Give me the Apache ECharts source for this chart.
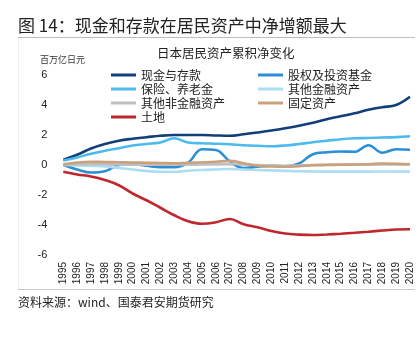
<!DOCTYPE html>
<html>
<head>
<meta charset="utf-8">
<script src="https://cdn.jsdelivr.net/npm/echarts@6/dist/echarts.min.js"></script>
<style>
html,body{margin:0;padding:0;background:#fff;}
#c{width:420px;height:348px;}
</style>
</head>
<body>
<div id="c"></div>
<script>
const years = ['1995','1996','1997','1998','1999','2000','2001','2002','2003','2004','2005','2006','2007','2008','2009','2010','2011','2012','2013','2014','2015','2016','2017','2018','2019','2020'];
const yTicks = [-6, -4, -2, 0, 2, 4, 6];
const cashDeposits = [0.35,0.68,1.1,1.4,1.62,1.75,1.85,1.95,2.0,2.0,2.0,1.97,1.95,2.05,2.17,2.3,2.45,2.62,2.82,3.05,3.25,3.45,3.68,3.85,4.0,4.55];
const equityFunds = [0.0,-0.3,-0.5,-0.42,0.0,0.05,-0.05,-0.15,-0.15,0.15,1.05,1.0,0.25,-0.2,-0.12,-0.05,-0.08,0.1,0.72,0.85,0.9,0.88,1.32,0.82,1.05,1.02];
const insurancePension = [0.3,0.5,0.75,0.95,1.12,1.3,1.4,1.5,1.78,1.5,1.45,1.42,1.38,1.32,1.28,1.25,1.3,1.4,1.52,1.62,1.72,1.78,1.8,1.83,1.86,1.92];
const otherFinancial = [0.0,-0.03,-0.06,-0.1,-0.2,-0.3,-0.4,-0.45,-0.45,-0.38,-0.33,-0.3,-0.27,-0.3,-0.33,-0.36,-0.39,-0.42,-0.43,-0.44,-0.44,-0.44,-0.44,-0.43,-0.43,-0.44];
const otherNonFinancial = [0,0.05,0.05,0.05,0.03,0.02,0.02,0.02,0.03,0.03,0.05,0.07,0.08,0.04,0,-0.04,-0.05,-0.03,0,0.02,0.03,0.03,0.04,0.06,0.06,0.05];
const fixedAssets = [0.05,0.17,0.22,0.2,0.18,0.17,0.15,0.13,0.12,0.15,0.18,0.22,0.28,0.12,-0.05,-0.1,-0.12,-0.08,-0.02,0,0.02,0.03,0.05,0.1,0.08,0.05];
const land = [-0.45,-0.63,-0.76,-1.0,-1.35,-1.9,-2.35,-2.85,-3.35,-3.75,-3.92,-3.82,-3.6,-3.95,-4.15,-4.4,-4.57,-4.64,-4.67,-4.63,-4.58,-4.52,-4.45,-4.37,-4.3,-4.28];

const names = ['现金与存款','股权及投资基金','保险、养老金','其他金融资产','其他非金融资产','固定资产','土地'];
const colors = ['#123F78','#2B8FD8','#4DBAEE','#ABDDF5','#BFBFBF','#C9A27D','#C0272D'];
const datasets = [cashDeposits, equityFunds, insurancePension, otherFinancial, otherNonFinancial, fixedAssets, land];

const CJK = '"Noto Sans CJK SC", sans-serif';
const LAT = '"Liberation Sans", Arial, sans-serif';

const series = names.map((n, i) => ({
  name: n,
  type: 'line',
  data: datasets[i],
  smooth: 0.4,
  showSymbol: false,
  symbol: 'none',
  lineStyle: { width: 2.6, color: colors[i] },
  itemStyle: { color: colors[i] },
  z: 3,
  markLine: i === 0 ? {
    silent: true, symbol: 'none', label: { show: false },
    lineStyle: { color: '#D9D9D9', width: 1, type: 'solid' },
    data: [{ yAxis: 0 }], z: 1
  } : undefined
}));

const chart = echarts.init(document.getElementById('c'), null, { renderer: 'canvas' });
chart.setOption({
  animation: false,
  backgroundColor: '#fff',
  color: colors,
  title: [
    { text: '图 14：现金和存款在居民资产中净增额最大', left: 18, top: 17, padding: 0,
      textStyle: { fontSize: 17, fontWeight: 'normal', color: '#222', fontFamily: CJK } },
    { text: '日本居民资产累积净变化', left: 157, top: 47, padding: 0,
      textStyle: { fontSize: 12.5, fontWeight: 'normal', color: '#222', fontFamily: CJK } },
    { text: '百万亿日元', left: 40, top: 55, padding: 0,
      textStyle: { fontSize: 9, fontWeight: 'normal', color: '#333', fontFamily: CJK } },
    { text: '资料来源：wind、国泰君安期货研究', left: 18, top: 296, padding: 0,
      textStyle: { fontSize: 12, fontWeight: 'normal', color: '#222', fontFamily: CJK } }
  ],
  legend: [
    { orient: 'vertical', left: 111, top: 69, padding: 0, itemGap: 2,
      icon: 'rect', itemWidth: 25, itemHeight: 3,
      data: ['现金与存款','保险、养老金','其他非金融资产','土地'],
      textStyle: { fontSize: 12, lineHeight: 12, color: '#222', fontFamily: CJK } },
    { orient: 'vertical', left: 258, top: 69, padding: 0, itemGap: 2,
      icon: 'rect', itemWidth: 25, itemHeight: 3,
      data: ['股权及投资基金','其他金融资产','固定资产'],
      textStyle: { fontSize: 12, lineHeight: 12, color: '#222', fontFamily: CJK } }
  ],
  grid: { left: 63.3, right: 10, top: 75, bottom: 93, containLabel: false },
  xAxis: {
    type: 'category', data: years, boundaryGap: false,
    axisLine: { show: false }, axisTick: { show: false }, splitLine: { show: false },
    axisLabel: { rotate: 90, fontSize: 10, color: '#222', margin: 7, fontFamily: LAT, interval: 0 }
  },
  yAxis: {
    type: 'value', min: yTicks[0], max: yTicks[yTicks.length - 1], interval: 2,
    axisLine: { show: false }, axisTick: { show: false }, splitLine: { show: false },
    axisLabel: { fontSize: 11, color: '#222', margin: 16, fontFamily: LAT }
  },
  graphic: [
    { type: 'line', shape: { x1: 18, y1: 37.5, x2: 415, y2: 37.5 }, style: { stroke: '#BDBDBD', lineWidth: 1 } },
    { type: 'line', shape: { x1: 18, y1: 289.5, x2: 415, y2: 289.5 }, style: { stroke: '#C8C8C8', lineWidth: 1 } },
    { type: 'line', shape: { x1: 18.5, y1: 38, x2: 18.5, y2: 289 }, style: { stroke: '#EEEEEE', lineWidth: 1 } }
  ],
  series: series
});
</script>
</body>
</html>
